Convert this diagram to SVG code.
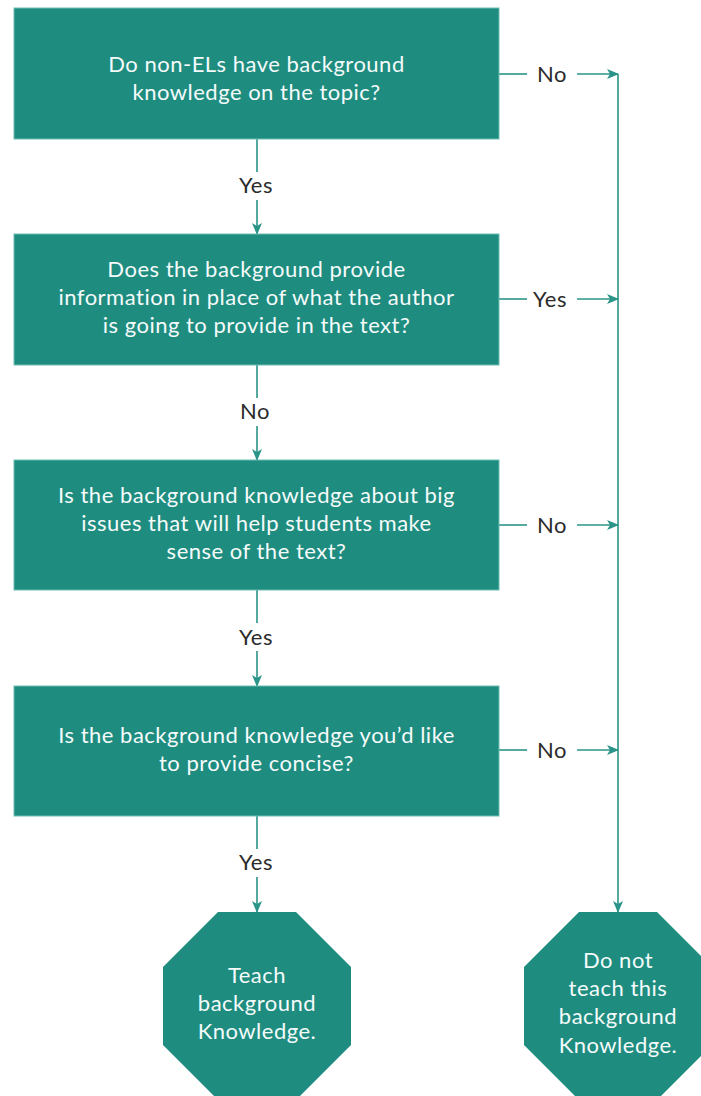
<svg xmlns="http://www.w3.org/2000/svg" width="701" height="1096" viewBox="0 0 701 1096">
<defs>
<style>
.box{fill:#1f8c80;stroke:#6fbdb3;stroke-width:1}
.oct{fill:#1f8c80}
.t{font-family:Lato,"Open Sans",sans-serif;font-size:22px;letter-spacing:0.5px;fill:#f4fbfa;text-anchor:middle}
.l{font-family:Lato,"Open Sans",sans-serif;font-size:22px;letter-spacing:0.5px;fill:#2b2b2b;text-anchor:middle}
.c{stroke:#2a9488;stroke-width:1.6;fill:none}
</style>
<marker id="ah" viewBox="0 0 12 10" refX="11" refY="5" markerWidth="12" markerHeight="10" markerUnits="userSpaceOnUse" orient="auto">
<path d="M0,0 L12,5 L0,10 L3,5 Z" fill="#2a9488"/>
</marker>
</defs>
<rect width="701" height="1096" fill="#fff"/>
<g id="connectors">
<path class="c" d="M499,74 H527"/><path class="c" d="M577,74 H618" marker-end="url(#ah)"/>
<path class="c" d="M499,299 H527"/><path class="c" d="M577,299 H618" marker-end="url(#ah)"/>
<path class="c" d="M499,525 H527"/><path class="c" d="M577,525 H618" marker-end="url(#ah)"/>
<path class="c" d="M499,750 H527"/><path class="c" d="M577,750 H618" marker-end="url(#ah)"/>
<path class="c" d="M618,74 V912" marker-end="url(#ah)"/>
<path class="c" d="M257,139 V172"/><path class="c" d="M257,200 V234" marker-end="url(#ah)"/>
<path class="c" d="M257,365 V398"/><path class="c" d="M257,426 V460" marker-end="url(#ah)"/>
<path class="c" d="M257,590 V623"/><path class="c" d="M257,651 V686" marker-end="url(#ah)"/>
<path class="c" d="M257,816 V849"/><path class="c" d="M257,877 V912" marker-end="url(#ah)"/>
<text class="l" x="552" y="82">No</text>
<text class="l" x="550" y="307">Yes</text>
<text class="l" x="552" y="533">No</text>
<text class="l" x="552" y="758">No</text>
<text class="l" x="256" y="193">Yes</text>
<text class="l" x="255" y="419">No</text>
<text class="l" x="256" y="645">Yes</text>
<text class="l" x="256" y="870">Yes</text>
</g>
<g id="q1"><rect class="box" x="14" y="8" width="485" height="131"/>
<text class="t" x="256.5" y="72">Do non-ELs have background</text>
<text class="t" x="256.5" y="100">knowledge on the topic?</text></g>
<g id="q2"><rect class="box" x="14" y="234" width="485" height="131"/>
<text class="t" x="256.5" y="277">Does the background provide</text>
<text class="t" x="256.5" y="305">information in place of what the author</text>
<text class="t" x="256.5" y="333">is going to provide in the text?</text></g>
<g id="q3"><rect class="box" x="14" y="460" width="485" height="130"/>
<text class="t" x="256.5" y="503">Is the background knowledge about big</text>
<text class="t" x="256.5" y="531">issues that will help students make</text>
<text class="t" x="256.5" y="559">sense of the text?</text></g>
<g id="q4"><rect class="box" x="14" y="686" width="485" height="130"/>
<text class="t" x="256.5" y="743">Is the background knowledge you’d like</text>
<text class="t" x="256.5" y="771">to provide concise?</text></g>
<g id="teach"><polygon class="oct" points="218,912 296,912 351,967 351,1045 296,1100 218,1100 163,1045 163,967"/>
<text class="t" x="257" y="983">Teach</text>
<text class="t" x="257" y="1011">background</text>
<text class="t" x="257" y="1039">Knowledge.</text></g>
<g id="noteach"><polygon class="oct" points="579,912 657,912 712,967 712,1045 657,1100 579,1100 524,1045 524,967"/>
<text class="t" x="618" y="968">Do not</text>
<text class="t" x="618" y="996">teach this</text>
<text class="t" x="618" y="1024">background</text>
<text class="t" x="618" y="1053">Knowledge.</text></g>
</svg>
